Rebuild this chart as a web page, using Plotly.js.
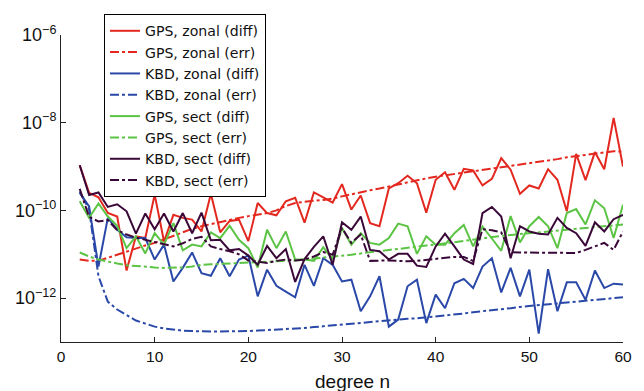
<!DOCTYPE html>
<html>
<head>
<meta charset="utf-8">
<script src="https://cdn.plot.ly/plotly-3.0.1.min.js"></script>
<style>html,body{margin:0;padding:0;background:#fff;}#chart{width:644px;height:391px;}</style>
</head>
<body>
<div id="chart"></div>
<script>
// degree n
const degrees = [2,3,4,5,6,7,8,9,10,11,12,13,14,15,16,17,18,19,20,21,22,23,24,25,26,27,28,29,30,31,32,33,34,35,36,37,38,39,40,41,42,43,44,45,46,47,48,49,50,51,52,53,54,55,56,57,58,59,60];

// values stored as log10 exponents
const gpsZonalDiffExp = [-8.97,-9.6,-9.7,-10.06,-10.14,-11.37,-10.59,-10.63,-9.64,-10.71,-10.10,-10.17,-10.21,-10.48,-9.62,-10.5,-10.24,-10.21,-10.70,-9.83,-10.06,-10.11,-9.79,-9.71,-10.28,-9.59,-9.70,-9.82,-9.40,-9.98,-9.66,-10.29,-10.36,-9.5,-9.38,-9.21,-9.38,-10.05,-9.30,-9.13,-9.53,-9.05,-9.09,-9.43,-9.28,-8.81,-9.07,-9.62,-9.43,-9.50,-9.06,-9.30,-10.02,-8.71,-9.31,-8.67,-9.06,-7.89,-9.0];
const gpsZonalErrExp = [-11.12,-11.15,-11.15,-11.08,-11.0,-10.93,-10.86,-10.8,-10.74,-10.66,-10.58,-10.5,-10.42,-10.36,-10.31,-10.26,-10.21,-10.17,-10.13,-10.1,-10.06,-10.0,-9.9,-9.83,-9.8,-9.78,-9.76,-9.73,-9.68,-9.63,-9.58,-9.54,-9.5,-9.46,-9.41,-9.36,-9.31,-9.27,-9.23,-9.2,-9.17,-9.14,-9.11,-9.07,-9.04,-9.01,-8.98,-8.95,-8.92,-8.89,-8.86,-8.83,-8.79,-8.76,-8.73,-8.71,-8.68,-8.65,-8.66];
const kbdZonalDiffExp = [-9.6,-9.91,-11.28,-10.17,-10.44,-10.61,-10.63,-10.63,-11.12,-10.78,-11.62,-11.31,-10.96,-11.43,-11.49,-11.09,-11.5,-11.12,-11.03,-11.96,-11.35,-11.72,-11.85,-11.98,-11.24,-11.72,-11.09,-11.24,-11.62,-11.58,-12.30,-11.96,-11.50,-12.65,-12.49,-11.73,-11.58,-12.57,-11.92,-12.23,-11.66,-11.56,-11.77,-11.28,-11.09,-11.87,-11.31,-11.96,-11.35,-12.81,-11.34,-12.30,-11.64,-11.64,-12.04,-11.37,-11.77,-11.67,-11.69];
const kbdZonalErrExp = [-9.57,-9.98,-11.5,-12.08,-12.26,-12.39,-12.51,-12.58,-12.65,-12.69,-12.72,-12.74,-12.75,-12.76,-12.76,-12.76,-12.76,-12.76,-12.75,-12.74,-12.73,-12.72,-12.71,-12.70,-12.68,-12.66,-12.64,-12.62,-12.6,-12.59,-12.57,-12.55,-12.53,-12.51,-12.49,-12.47,-12.46,-12.44,-12.42,-12.4,-12.37,-12.35,-12.32,-12.3,-12.28,-12.25,-12.23,-12.2,-12.18,-12.16,-12.14,-12.12,-12.1,-12.08,-12.06,-12.04,-12.02,-12.0,-11.98];
const gpsSectDiffExp = [-9.79,-10.17,-9.84,-10.14,-10.35,-10.86,-10.59,-10.98,-10.52,-10.78,-10.29,-10.91,-10.78,-10.82,-10.50,-10.63,-10.35,-10.67,-10.86,-11.3,-10.44,-10.86,-10.48,-11.12,-11.12,-11.15,-10.84,-11.12,-10.40,-10.78,-10.52,-10.74,-10.78,-10.63,-10.30,-10.36,-10.99,-10.59,-10.78,-10.78,-10.52,-10.33,-10.82,-10.37,-10.64,-10.92,-10.13,-10.73,-10.36,-10.15,-10.36,-10.86,-10.06,-9.97,-10.32,-9.77,-9.95,-10.63,-9.87];
const gpsSectErrExp = [-10.96,-11.05,-11.12,-11.17,-11.21,-11.25,-11.27,-11.29,-11.3,-11.31,-11.31,-11.3,-11.28,-11.24,-11.23,-11.22,-11.21,-11.2,-11.2,-11.19,-11.17,-11.16,-11.15,-11.14,-11.12,-11.1,-11.07,-11.05,-11.03,-11.01,-10.98,-10.95,-10.92,-10.9,-10.88,-10.85,-10.83,-10.8,-10.78,-10.75,-10.72,-10.69,-10.66,-10.63,-10.6,-10.58,-10.56,-10.54,-10.52,-10.5,-10.48,-10.46,-10.44,-10.42,-10.4,-10.38,-10.36,-10.34,-10.32];
const kbdSectDiffExp = [-8.97,-9.65,-9.59,-9.92,-9.86,-10.02,-10.53,-10.07,-10.43,-10.07,-10.48,-10.06,-10.52,-10.05,-10.68,-10.67,-10.91,-10.88,-11.03,-11.24,-10.81,-11.09,-10.88,-11.63,-11.11,-10.83,-10.59,-11.24,-10.27,-10.44,-10.14,-10.90,-10.93,-11.12,-10.99,-10.99,-11.26,-11.29,-10.82,-10.53,-10.82,-11.12,-11.22,-10.06,-9.92,-10.14,-11.09,-10.36,-10.48,-10.53,-10.55,-10.17,-10.40,-10.52,-10.81,-10.27,-10.48,-10.20,-10.10];
const kbdSectErrExp = [-9.51,-10.15,-10.25,-10.22,-10.45,-10.55,-10.62,-10.67,-10.72,-10.77,-10.82,-10.75,-10.65,-10.6,-10.82,-10.88,-10.93,-11.0,-11.14,-11.17,-11.2,-11.15,-11.12,-11.14,-11.12,-11.05,-10.95,-11.01,-10.4,-10.74,-10.55,-11.15,-11.14,-11.14,-11.15,-11.16,-11.15,-11.13,-11.11,-11.08,-11.06,-11.06,-11.15,-10.43,-10.45,-10.5,-10.95,-10.96,-10.96,-10.97,-10.97,-10.96,-10.96,-10.97,-10.9,-10.82,-10.74,-10.9,-10.48];

const seriesNames = ["GPS, zonal (diff)","GPS, zonal (err)","KBD, zonal (diff)","KBD, zonal (err)","GPS, sect (diff)","GPS, sect (err)","KBD, sect (diff)","KBD, sect (err)"];
const seriesExp = [gpsZonalDiffExp,gpsZonalErrExp,kbdZonalDiffExp,kbdZonalErrExp,gpsSectDiffExp,gpsSectErrExp,kbdSectDiffExp,kbdSectErrExp];
const yTickVals = [1e-12,1e-10,1e-8,1e-6];
const yTickText = ["10<sup>−12</sup>","10<sup>−10</sup>","10<sup>−8</sup>","10<sup>−6</sup>"];
const xTickVals = [0,10,20,30,40,50,60];
const xTitle = "degree n";

const colors = ["#e3281f","#e3281f","#2a48a8","#2a48a8","#5cc444","#5cc444","#3a0838","#3a0838"];
const dashes = ["solid","dashdot","solid","dashdot","solid","dashdot","solid","dashdot"];

const traces = seriesExp.map((arr,i)=>({
  x: degrees,
  y: arr.map(v=>Math.pow(10,v)),
  name: seriesNames[i],
  type: "scatter",
  mode: "lines",
  line: {color: colors[i], width: 2, dash: dashes[i]}
}));

const font = "Liberation Sans, Arial, Helvetica, sans-serif";
const layout = {
  width: 644, height: 391,
  margin: {l: 61, r: 21, t: 35, b: 49},
  paper_bgcolor: "#fff", plot_bgcolor: "#fff",
  showlegend: true,
  legend: {
    x: 0.0765, y: 1.068, xanchor: "left", yanchor: "top",
    bgcolor: "#fff", bordercolor: "#000", borderwidth: 1,
    font: {family: "DejaVu Sans, sans-serif", size: 14.1, color: "#111"},
    tracegroupgap: 0, itemwidth: 30
  },
  xaxis: {
    range: [0, 60], tickvals: xTickVals, ticks: "inside", ticklen: 5, tickcolor: "#222",
    showline: true, linecolor: "#222", linewidth: 1, showgrid: false, zeroline: false,
    tickfont: {family: font, size: 15.5, color: "#111"}
  },
  yaxis: {
    type: "log", range: [-13, -6], tickvals: yTickVals, ticktext: yTickText,
    ticks: "inside", ticklen: 5, tickcolor: "#222",
    showline: true, linecolor: "#222", linewidth: 1, showgrid: false, zeroline: false,
    tickfont: {family: font, size: 18, color: "#111"}
  },
  annotations: [{
    text: xTitle, xref: "paper", yref: "paper", x: 0.518, y: -0.13,
    xanchor: "center", yanchor: "middle", showarrow: false,
    font: {family: font, size: 19, color: "#111"}
  }]
};
Plotly.newPlot("chart", traces, layout, {displayModeBar: false, staticPlot: true});
</script>
</body>
</html>
